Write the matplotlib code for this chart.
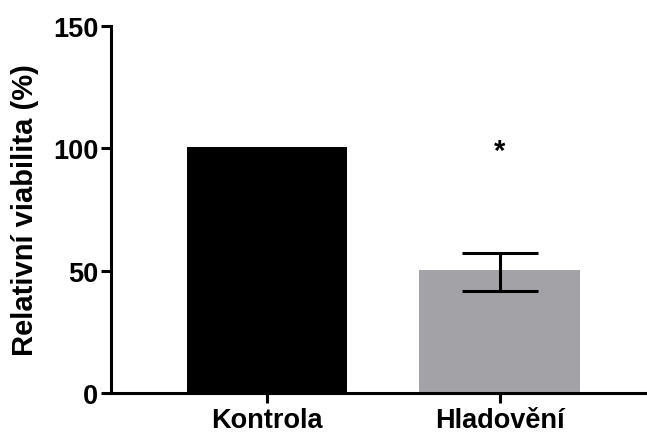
import matplotlib
matplotlib.use("Agg")
import matplotlib.pyplot as plt

# data
groups = ["Kontrola", "Hladovění"]
means = [100.5, 50.4]
err_low = [0, 8.8]
err_high = [0, 6.8]
bar_colors = ["#000000", "#a3a2a7"]
sig_marks = ["", "*"]
sig_y = [0, 99]

plt.rcParams["font.family"] = ["Liberation Sans", "DejaVu Sans"]
plt.rcParams["font.weight"] = "bold"

fig = plt.figure(figsize=(6.47, 4.35), dpi=100)
ax = fig.add_axes([111 / 647, 1 - 394 / 435, (645 - 111) / 647, (394 - 27) / 435])

x = list(range(len(groups)))
ax.bar(x, means, width=0.69, color=bar_colors, zorder=2)

# error bar only on the second group
ax.errorbar(x[1], means[1], yerr=[[err_low[1]], [err_high[1]]],
            fmt="none", ecolor="black", elinewidth=2.2,
            capsize=27.5, capthick=2.2, zorder=3)

for xi, m, yy in zip(x, sig_marks, sig_y):
    if m:
        ax.text(xi, yy, m, ha="center", va="center", fontsize=21,
                fontweight="bold")

ax.set_xlim(-0.672, 1.625)
ax.set_ylim(0, 150)
ax.set_yticks([0, 50, 100, 150])
ax.set_xticks(x)
ax.set_xticklabels(groups)
ax.set_ylabel("Relativní viabilita (%)", fontsize=21, fontweight="bold",
              labelpad=10)

for side in ["top", "right"]:
    ax.spines[side].set_visible(False)
for side in ["left", "bottom"]:
    ax.spines[side].set_linewidth(2.2)

ax.tick_params(axis="both", width=2.2, length=7, labelsize=19.5)
ax.tick_params(axis="y", pad=2)
ax.tick_params(axis="x", pad=3)
for lab in ax.get_xticklabels() + ax.get_yticklabels():
    lab.set_fontweight("bold")

fig.savefig("out.png", dpi=100)
